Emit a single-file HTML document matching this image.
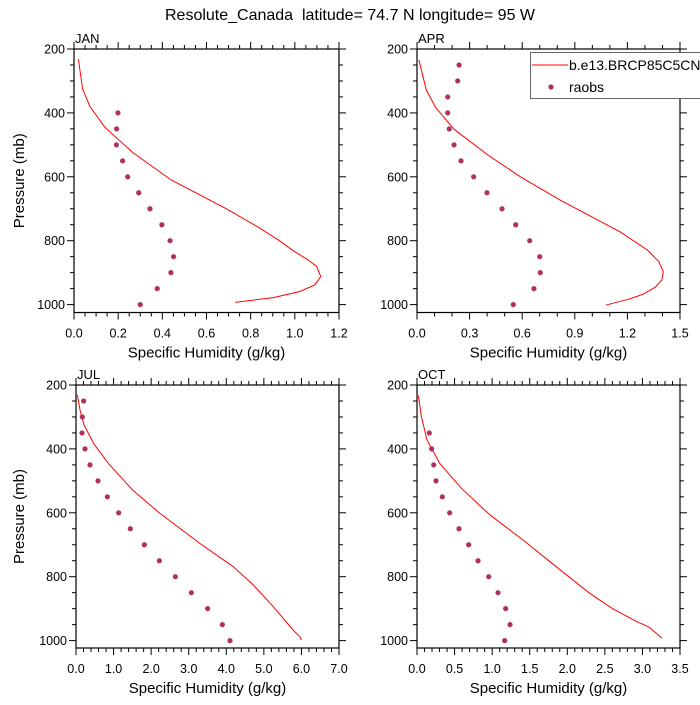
<!DOCTYPE html>
<html><head><meta charset="utf-8"><style>
html,body{margin:0;padding:0;background:#fff;}
svg text{font-family:"Liberation Sans",sans-serif;fill:#000;white-space:pre;}
</style></head><body>
<svg id="chart" width="700" height="700" viewBox="0 0 700 700" xmlns="http://www.w3.org/2000/svg">
<text x="350" y="20" font-size="16" text-anchor="middle" xml:space="preserve">Resolute_Canada  latitude= 74.7 N longitude= 95 W</text>
</svg>
<script>
// JAN
const janModelP = [232,325,380,445,524,610,700,760,800,830,860,881,912,938,959,978,993];
const janModelQ = [0.02,0.039,0.072,0.14,0.266,0.44,0.69,0.84,0.93,0.99,1.06,1.099,1.117,1.091,1.023,0.903,0.73];
const janObsP = [400,450,500,550,600,650,700,750,800,850,900,950,1000];
const janObsQ = [0.199,0.193,0.192,0.22,0.243,0.293,0.344,0.398,0.435,0.451,0.439,0.377,0.3];
const janTicks = ["0.0","0.2","0.4","0.6","0.8","1.0","1.2"];
// APR
const aprModelP = [234,328,383,451,532,600,673,772,829,866,897,923,946,967,982,1002];
const aprModelQ = [0.011,0.053,0.106,0.211,0.405,0.59,0.816,1.158,1.314,1.38,1.405,1.396,1.358,1.291,1.215,1.076];
const aprObsP = [250,300,350,400,450,500,550,600,650,700,750,800,850,900,950,1000];
const aprObsQ = [0.24,0.232,0.175,0.175,0.184,0.211,0.251,0.323,0.399,0.485,0.563,0.643,0.7,0.703,0.667,0.549];
const aprTicks = ["0.0","0.3","0.6","0.9","1.2","1.5"];
// JUL
const julModelP = [231,278,325,385,445,529,602,696,769,826,894,967,988,998];
const julModelQ = [0.035,0.106,0.213,0.479,0.861,1.508,2.236,3.3,4.19,4.72,5.25,5.78,5.96,6.0];
const julObsP = [250,300,350,400,450,500,550,600,650,700,750,800,850,900,950,1000];
const julObsQ = [0.204,0.169,0.16,0.24,0.373,0.586,0.834,1.136,1.446,1.819,2.218,2.644,3.07,3.504,3.895,4.099];
const julTicks = ["0.0","1.0","2.0","3.0","4.0","5.0","6.0","7.0"];
// OCT
const octModelP = [233,299,372,445,523,606,685,769,852,900,940,956,977,993];
const octModelQ = [0.018,0.058,0.133,0.302,0.59,0.967,1.411,1.854,2.298,2.6,2.92,3.074,3.185,3.26];
const octObsP = [350,400,450,500,550,600,650,700,750,800,850,900,950,1000];
const octObsQ = [0.164,0.195,0.222,0.253,0.337,0.435,0.559,0.688,0.812,0.954,1.078,1.18,1.238,1.167];
const octTicks = ["0.0","0.5","1.0","1.5","2.0","2.5","3.0","3.5"];
const pTicks = [200,400,600,800,1000];

const NS="http://www.w3.org/2000/svg";
const svg=document.getElementById('chart');
function mk(tag,attrs,parent){const e=document.createElementNS(NS,tag);for(const k in attrs)e.setAttribute(k,attrs[k]);(parent||svg).appendChild(e);return e;}

function panel(name,label,L,R,T,B,xmax,xTicks,minorPer,mP,mQ,oP,oQ){
  const g=mk('g',{});
  
  
  const pxPerMb=0.3195;
  const y=p=>T+(p-200)*pxPerMb;
  const x=q=>L+q/xmax*(R-L);
  mk('rect',{x:L,y:T,width:R-L,height:B-T,fill:'none',stroke:'#000','stroke-width':1.2},g);
  const nMaj=xTicks.length-1;
  const nMin=nMaj*minorPer;
  for(let i=0;i<=nMin;i++){
    const q=xmax*i/nMin, xx=x(q), maj=i%minorPer===0, len=maj?7:4;
    mk('line',{x1:xx,y1:T,x2:xx,y2:T-len,stroke:'#000','stroke-width':1},g);
    mk('line',{x1:xx,y1:B,x2:xx,y2:B+len,stroke:'#000','stroke-width':1},g);
  }
  xTicks.forEach((t,i)=>{
    const tx=mk('text',{x:x(xmax*i/nMaj),y:B+25,'font-size':12.5,'text-anchor':'middle'},g);
    
    
    tx.textContent=t;
  });
  for(let p=200;p<=1000;p+=50){
    const yy=y(p), maj=p%200===0, len=maj?7:4;
    mk('line',{x1:L,y1:yy,x2:L-len,y2:yy,stroke:'#000','stroke-width':1},g);
    mk('line',{x1:R,y1:yy,x2:R+len,y2:yy,stroke:'#000','stroke-width':1},g);
  }
  pTicks.forEach(p=>{
    const tx=mk('text',{x:L-9,y:y(p)+4.5,'font-size':12.5,'text-anchor':'end'},g);
    
    
    tx.textContent=p;
  });
  const lb=mk('text',{x:L+1,y:T-6,'font-size':13},g);
  
  
  lb.textContent=label;
  const xt=mk('text',{x:(L+R)/2,y:B+45,'font-size':15,'text-anchor':'middle'},g);
  
  
  xt.textContent='Specific Humidity (g/kg)';
  if(L<200){
    const yt=mk('text',{x:0,y:0,'font-size':15,'text-anchor':'middle',transform:`translate(24,${(T+B)/2}) rotate(-90)`},g);
    
    
    yt.textContent='Pressure (mb)';
  }
  const pts=mP.map((p,i)=>x(mQ[i]).toFixed(1)+','+y(p).toFixed(1)).join(' ');
  const pl=mk('polyline',{points:pts,fill:'none',stroke:'#ff0000','stroke-width':1},g);
  
  
  oP.forEach((p,i)=>{
    const c=mk('circle',{cx:x(oQ[i]),cy:y(p),r:2.6,fill:'#b03060'},g);
    
    
  });
}
panel('jan','JAN',74,339,49,312.5,1.2,janTicks,4,janModelP,janModelQ,janObsP,janObsQ);
panel('apr','APR',417,680,49,312.5,1.5,aprTicks,3,aprModelP,aprModelQ,aprObsP,aprObsQ);
panel('jul','JUL',76,339,385,648,7,julTicks,5,julModelP,julModelQ,julObsP,julObsQ);
panel('oct','OCT',417,680,385,648,3.5,octTicks,5,octModelP,octModelQ,octObsP,octObsQ);

// legend
const lg=mk('g',{});


mk('rect',{x:530.5,y:52.5,width:180,height:46,fill:'#fff',stroke:'#666','stroke-width':1},lg);
mk('line',{x1:532,y1:65,x2:568,y2:65,stroke:'#ff0000','stroke-width':1},lg);
const t1=mk('text',{x:569,y:70,'font-size':14},lg);


t1.textContent='b.e13.BRCP85C5CN.ne30';
mk('circle',{cx:551,cy:87,r:2.6,fill:'#b03060'},lg);
const t2=mk('text',{x:569,y:92,'font-size':14},lg);


t2.textContent='raobs';
</script>
</body></html>
